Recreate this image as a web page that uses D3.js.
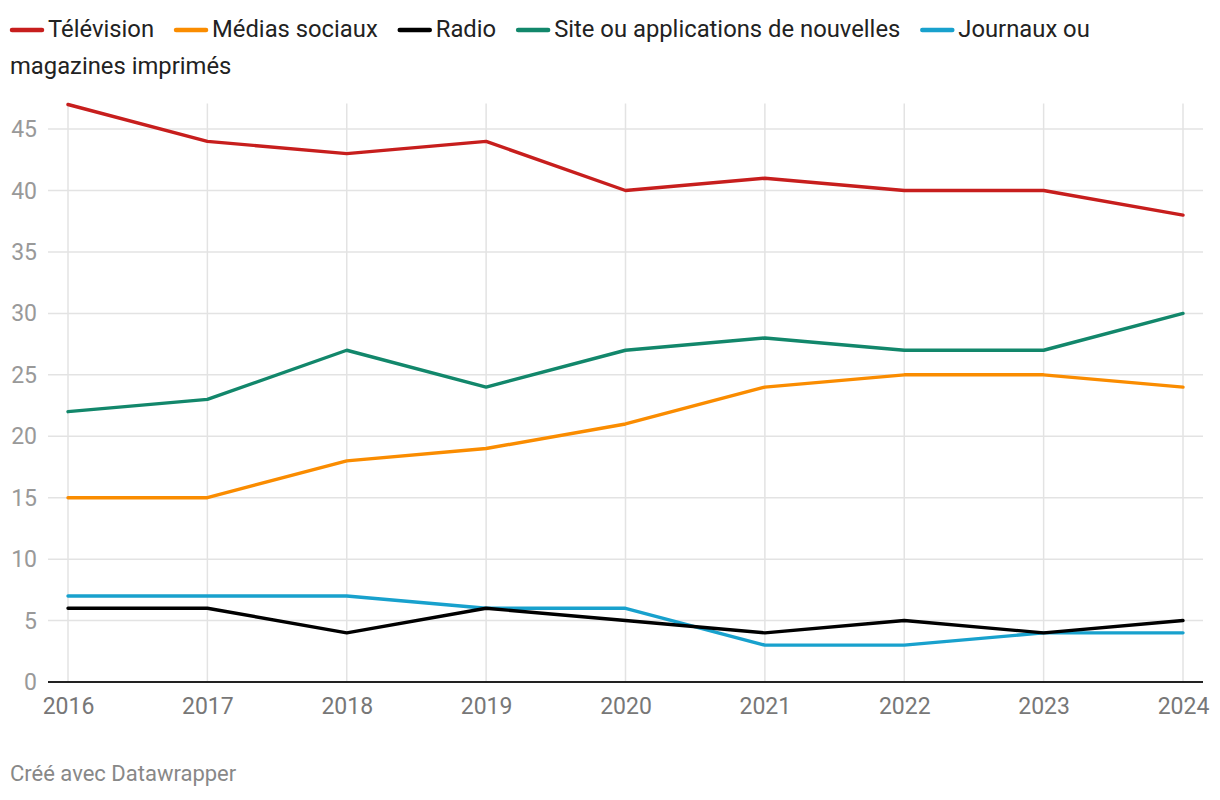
<!DOCTYPE html>
<html><head><meta charset="utf-8">
<script src="https://cdn.jsdelivr.net/npm/d3@7"></script>
<style>
body{margin:0;background:#fff;font-family:Roboto,sans-serif;}
#chart{position:absolute;left:0;top:0;font-family:Roboto,sans-serif;}
</style></head>
<body>
<svg id="chart" width="1220" height="800"></svg>
<script>
const years = [2016,2017,2018,2019,2020,2021,2022,2023,2024];
const seriesNames = ["Télévision","Médias sociaux","Radio","Site ou applications de nouvelles","Journaux ou magazines imprimés"];
const colors = ["#c71e1d","#fa8c00","#000000","#12876b","#18a1cd"];
const television = [47,44,43,44,40,41,40,40,38];
const mediasSociaux = [15,15,18,19,21,24,25,25,24];
const radio = [6,6,4,6,5,4,5,4,5];
const siteApps = [22,23,27,24,27,28,27,27,30];
const journaux = [7,7,7,6,6,3,3,4,4];
const yTicks = [0,5,10,15,20,25,30,35,40,45];
const allSeries = [television, mediasSociaux, radio, siteApps, journaux];

const svg = d3.select("#chart");

// legend (SVG, with word wrap)
const legG = svg.append("g");
const legFont = 23.8, lineH = 37, maxX = 1130;
let cx = 12, cy = 37;
const measure = legG.append("text").attr("font-size",legFont).attr("opacity",0);
function tw(s){ measure.text(s); return measure.node().getComputedTextLength(); }
seriesNames.forEach((n,i)=>{
  legG.append("line").attr("x1",cx).attr("x2",cx+30).attr("y1",cy-7).attr("y2",cy-7)
    .attr("stroke",colors[i]).attr("stroke-width",4.5).attr("stroke-linecap","round");
  let tx = cx + 36;
  const words = n.split(" ");
  let cur = "", startX = tx;
  const lines = [];
  words.forEach(w=>{
    const cand = cur ? cur + " " + w : w;
    if (startX + tw(cand) > maxX && cur) {
      lines.push({t:cur,x:startX,y:cy});
      cur = w; startX = 10; cy += lineH;
    } else cur = cand;
  });
  lines.push({t:cur,x:startX,y:cy});
  lines.forEach(l=>legG.append("text").attr("x",l.x).attr("y",l.y).attr("font-size",legFont)
    .attr("fill","#222").text(l.t));
  cx = startX + tw(cur) + 22;
});
measure.remove();

const x = d3.scaleLinear().domain([2016,2024]).range([68,1183]);
const y = d3.scaleLinear().domain([0,47]).range([682,104.5]);

// horizontal grid
svg.append("g").selectAll("line").data(yTicks.filter(d=>d>0)).join("line")
  .attr("x1",48).attr("x2",1203).attr("y1",d=>y(d)).attr("y2",d=>y(d))
  .attr("stroke","#e3e3e3").attr("stroke-width",1.5);
// vertical grid
svg.append("g").selectAll("line").data(years).join("line")
  .attr("x1",d=>x(d)).attr("x2",d=>x(d)).attr("y1",y(47)-1).attr("y2",y(0))
  .attr("stroke","#e3e3e3").attr("stroke-width",1.5);

// y labels
svg.append("g").selectAll("text").data(yTicks).join("text")
  .attr("x",37).attr("y",d=>y(d)+8).attr("text-anchor","end")
  .attr("font-size",23).attr("fill","#999").text(d=>d);
// x labels
const xAxis = d3.axisBottom(x).tickValues(years).tickFormat(d3.format("d")).tickSize(0).tickPadding(16);
const gx = svg.append("g").attr("transform",`translate(0,${y(0)})`).call(xAxis);
gx.select(".domain").remove();
gx.selectAll("text").attr("font-size",23).attr("fill","#777").attr("font-family","Roboto,sans-serif");

// zero baseline
svg.append("line").attr("x1",48).attr("x2",1203).attr("y1",y(0)).attr("y2",y(0))
  .attr("stroke","#222").attr("stroke-width",2);

// lines
const line = d3.line().x((d,i)=>x(years[i])).y(d=>y(d));
const order = [4,1,3,2,0];
order.forEach(i=>{
  svg.append("path").datum(allSeries[i]).attr("d",line)
    .attr("fill","none").attr("stroke",colors[i]).attr("stroke-width",3.4)
    .attr("stroke-linejoin","round").attr("stroke-linecap","round");
});

// footer
svg.append("text").attr("x",10).attr("y",781).attr("font-size",22).attr("fill","#888")
  .text("Créé avec Datawrapper");
</script>
</body></html>
